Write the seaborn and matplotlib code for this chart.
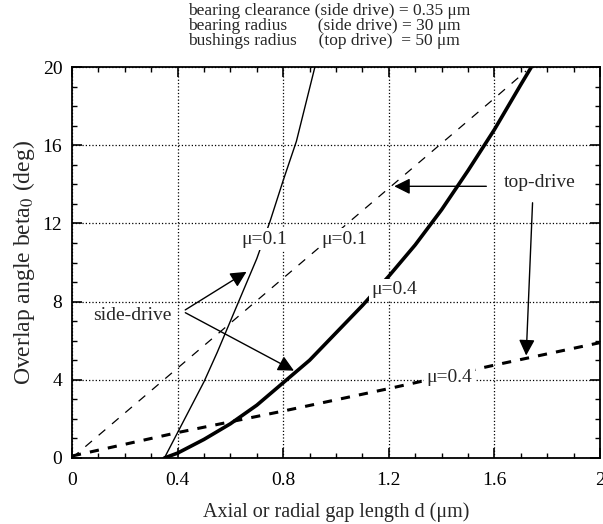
import numpy as np
import pandas as pd
import matplotlib
matplotlib.use("Agg")
import matplotlib.pyplot as plt
from matplotlib.ticker import MultipleLocator
import seaborn as sns

# side-drive curves (start at bearing clearance 0.35 um)
side_d_01 = [0.35, 0.40, 0.45, 0.50, 0.55, 0.60, 0.65, 0.70, 0.75, 0.80, 0.85, 0.92]
side_b_01 = [0.0, 1.3, 2.6, 3.9, 5.4, 7.0, 8.6, 10.2, 12.1, 14.2, 16.2, 20.0]
side_d_04 = [0.35, 0.40, 0.50, 0.60, 0.70, 0.80, 0.90, 1.00, 1.10, 1.20,
             1.30, 1.40, 1.50, 1.60, 1.70, 1.74]
side_b_04 = [0.0, 0.25, 0.95, 1.75, 2.7, 3.85, 5.0, 6.4, 7.8, 9.3,
             10.9, 12.7, 14.7, 16.8, 19.1, 20.0]

# top-drive curves
top_d_01 = [0.0, 0.4, 0.8, 1.2, 1.6, 1.72]
top_b_01 = [0.0, 4.6, 9.2, 13.8, 18.4, 19.8]
top_d_04 = [0.0, 0.4, 0.8, 1.2, 1.6, 2.0]
top_b_04 = [0.1, 1.3, 2.4, 3.55, 4.75, 5.9]

sns.set_style("ticks")
plt.rcParams['font.family'] = ['Liberation Serif', 'DejaVu Serif']
plt.rcParams['mathtext.fontset'] = 'stix'

fig = plt.figure(figsize=(6.03, 5.24), dpi=100)
ax = fig.add_axes([0.1194, 0.126, 0.8756, 0.746])

sns.lineplot(x=side_d_01, y=side_b_01, ax=ax, color='black', lw=1.0)
sns.lineplot(x=side_d_04, y=side_b_04, ax=ax, color='black', lw=2.6)
l3 = sns.lineplot(x=top_d_01, y=top_b_01, ax=ax, color='black', lw=0.9).lines[-1]
l3.set_dashes((7, 7))
l4 = sns.lineplot(x=top_d_04, y=top_b_04, ax=ax, color='black', lw=2.2).lines[-1]
l4.set_dashes((3, 3))

ax.set_xlim(0, 2)
ax.set_ylim(0, 20)
ax.xaxis.set_major_locator(MultipleLocator(0.4))
ax.xaxis.set_minor_locator(MultipleLocator(0.1))
ax.yaxis.set_major_locator(MultipleLocator(4))
ax.yaxis.set_minor_locator(MultipleLocator(1))
ax.set_xticks([0, 0.4, 0.8, 1.2, 1.6, 2.0])
ax.set_xticklabels(['0', '0.4', '0.8', '1.2', '1.6', '2'])
ax.tick_params(which='both', direction='in', top=True, right=True, colors='black',
               labelsize=14)
ax.tick_params(axis='x', which='major', pad=10)
ax.tick_params(axis='y', which='major', pad=7)
ax.tick_params(which='major', length=7, width=1.2)
ax.tick_params(which='minor', length=3.5, width=1.0)
ax.grid(True, which='major', linestyle=':', color='black', lw=0.9)
for s in ax.spines.values():
    s.set_color('black')
    s.set_linewidth(1.3)

ax.set_xlabel('Axial or radial gap length d (μm)', fontsize=14.5, labelpad=10)
ax.set_ylabel('Overlap angle beta$_0$ (deg)', fontsize=17, labelpad=4)

fig.text(0.312, 0.995,
         'bearing clearance (side drive) = 0.35 μm\n'
         'bearing radius       (side drive) = 30 μm\n'
         'bushings radius     (top drive)  = 50 μm',
         ha='left', va='top', fontsize=12.5, linespacing=0.92)

fs = 14
box = dict(facecolor='white', edgecolor='none', pad=1.5)
ax.text(0.73, 11.2, 'μ=0.1', fontsize=fs, ha='center', va='center', bbox=box)
ax.text(1.03, 11.2, 'μ=0.1', fontsize=fs, ha='center', va='center', bbox=box)
ax.text(1.22, 8.6, 'μ=0.4', fontsize=fs, ha='center', va='center', bbox=box)
ax.text(1.43, 4.1, 'μ=0.4', fontsize=fs, ha='center', va='center', bbox=box)
ax.text(1.77, 14.1, 'top-drive', fontsize=fs, ha='center', va='center', bbox=box)
ax.text(0.23, 7.3, 'side-drive', fontsize=fs, ha='center', va='center', bbox=box)

arrow = dict(arrowstyle='-|>', color='black', lw=1.0, mutation_scale=24)
ax.annotate('', xy=(1.21, 13.9), xytext=(1.58, 13.9), arrowprops=arrow)
ax.annotate('', xy=(1.72, 5.1), xytext=(1.745, 13.2), arrowprops=arrow)
ax.annotate('', xy=(0.67, 9.6), xytext=(0.42, 7.5), arrowprops=arrow)
ax.annotate('', xy=(0.85, 4.4), xytext=(0.42, 7.5), arrowprops=arrow)

fig.savefig('out.png', dpi=100)
